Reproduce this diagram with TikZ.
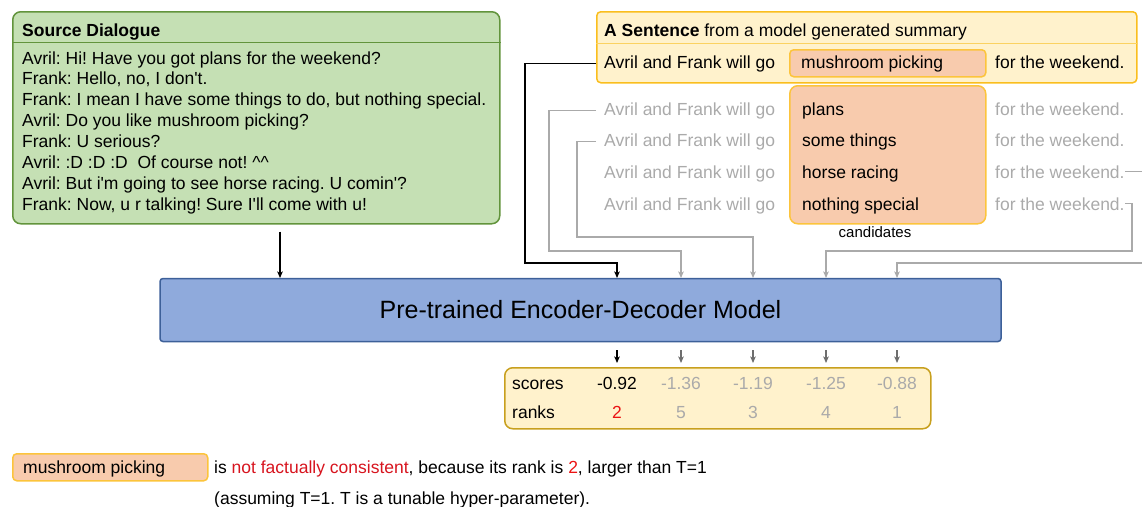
\documentclass[tikz,border=0pt]{standalone}
\usepackage{fontspec}
\setmainfont{Liberation Sans}
\usetikzlibrary{arrows.meta}
\usetikzlibrary{calc}
\frenchspacing

\definecolor{dlgfill}{RGB}{197,224,180}
\definecolor{dlgdraw}{RGB}{98,148,60}
\definecolor{sumfill}{RGB}{255,242,204}
\definecolor{sumdraw}{RGB}{250,190,30}
\definecolor{candfill}{RGB}{248,203,173}
\definecolor{canddraw}{RGB}{252,196,60}
\definecolor{modfill}{RGB}{143,170,220}
\definecolor{moddraw}{RGB}{61,96,153}
\definecolor{scdraw}{RGB}{200,160,30}
\definecolor{fadetxt}{RGB}{170,170,170}
\definecolor{arrgray}{RGB}{110,110,110}
\definecolor{badred}{RGB}{215,20,30}
\definecolor{rankred}{RGB}{235,20,20}

\newcommand{\apos}{\textquotesingle}

\tikzset{
    txt/.style={anchor=base west, inner sep=0pt, font=\fontsize{17.5}{21}\selectfont},
    fade/.style={txt, text=fadetxt},
    val/.style={anchor=base, inner sep=0pt, font=\fontsize{17.5}{21}\selectfont},
    boxnode/.style={anchor=north west, inner sep=0pt, line width=1.5pt},
    link/.style={line width=1.3pt, -{Stealth[length=6.5pt,width=5.5pt,inset=1.5pt]}},
    flink/.style={link, draw=fadetxt},
}

\begin{document}
\begin{tikzpicture}[x=1pt, y=-1pt]
    \useasboundingbox (0,0) rectangle (1142,506);
    \clip (0,0) rectangle (1142,506);

    %% source dialogue
    \node[boxnode, draw=dlgdraw, fill=dlgfill, rounded corners=8pt, minimum width=487pt, minimum height=212pt] (src) at (12,11) {};
    \draw[dlgdraw, line width=1pt] (src.west |- 0,42) -- (src.east |- 0,42);
    \node[txt, font=\bfseries\fontsize{17.5}{21}\selectfont] (srctitle) at (22,36) {Source Dialogue};
    \foreach \dlg [count=\i] in {
        {Avril: Hi! Have you got plans for the weekend?},
        {Frank: Hello, no, I don\apos t.},
        {Frank: I mean I have some things to do, but nothing special.},
        {Avril: Do you like mushroom picking?},
        {Frank: U serious?},
        {Avril: :D :D :D\ \ Of course not! \textasciicircum\textasciicircum},
        {Avril: But i\apos m going to see horse racing. U comin\apos?},
        {Frank: Now, u r talking! Sure I\apos ll come with u!}}
        \node[txt] (d\i) at (22,{64+20.9*(\i-1)}) {\dlg};

    %% sentence from the summary
    \node[boxnode, draw=sumdraw, fill=sumfill, rounded corners=4pt, minimum width=540pt, minimum height=71pt] (sum) at (596,11) {};
    \draw[sumdraw!70, line width=1pt] (sum.west |- 0,43) -- (sum.east |- 0,43);
    \node[txt] (sumtitle) at (604,36) {\textbf{A Sentence} from a model generated summary};
    \node[txt] (s0) at (604,68) {Avril and Frank will go};
    \node[boxnode, draw=canddraw, fill=candfill, rounded corners=4pt, minimum width=196pt, minimum height=27pt] (hl) at (789,49) {};
    \node[txt] (c0) at (801,68) {mushroom picking};
    \node[txt] (r0) at (995,68) {for the weekend.};

    %% candidates
    \node[boxnode, draw=canddraw, fill=candfill, rounded corners=8pt, minimum width=196pt, minimum height=138pt] (cands) at (789,85) {};
    \foreach \cand/\yb [count=\i] in {plans/115, some things/146, horse racing/178, nothing special/210} {
        \node[fade] (g\i) at (604,\yb) {Avril and Frank will go};
        \node[txt] (c\i) at (802,\yb) {\cand};
        \node[fade] (r\i) at (995,\yb) {for the weekend.};
    }
    \node[anchor=base, inner sep=0pt, font=\fontsize{15}{18}\selectfont] (candlabel) at (875,237) {candidates};

    %% model
    \node[draw=moddraw, fill=modfill, line width=1.5pt, rounded corners=3pt, minimum width=841pt, minimum height=63pt, inner sep=0pt, font=\fontsize{25}{30}\selectfont] (model) at (580.5,310) {Pre-trained Encoder-Decoder Model};
    \foreach \x [count=\i from 0] in {280,617,681,753,826,897}
        \coordinate (in\i) at (\x,278);

    %% inputs
    \draw[link, shorten <=7pt] (src.south -| in0) -- (in0);
    \draw[link] ([xshift=-8pt]s0.west) -| (525,263) -| (in1);
    \draw[flink] ([xshift=-8pt]g1.west) -| (549,251) -| (in2);
    \draw[flink] ([xshift=-8pt]g2.west) -| (577,237) -| (in3);
    \draw[flink] (r4.east) -| (1132,251) -| (in4);
    \draw[flink] (r3.east) -| (1150,263) -| (in5);

    %% scores and ranks
    \node[boxnode, draw=scdraw, fill=sumfill, rounded corners=8pt, minimum width=426pt, minimum height=61pt] (scores) at (504,367) {};
    \node[txt] (sclabel) at (512,389) {scores};
    \node[txt] (rklabel) at (512,418) {ranks};
    \foreach \x/\s/\r/\ac/\sc/\rc [count=\i] in {617/-0.92/2/black/black/rankred, 681/-1.36/5/arrgray/fadetxt/fadetxt, 753/-1.19/3/arrgray/fadetxt/fadetxt, 826/-1.25/4/arrgray/fadetxt/fadetxt, 897/-0.88/1/arrgray/fadetxt/fadetxt} {
        \node[val, text=\sc] (v\i) at (\x,389) {\s};
        \node[val, text=\rc] (k\i) at (\x,418) {\r};
        \draw[link, draw=\ac, fill=\ac, shorten <=8pt, shorten >=4pt] (model.south -| v\i) -- (scores.north -| v\i);
    }

    %% note at the bottom
    \node[boxnode, draw=canddraw, fill=candfill, rounded corners=4pt, minimum width=195pt, minimum height=27pt] (hlnote) at (12,453) {};
    \node[txt] (cnote) at (23,473) {mushroom picking};
    \node[txt] (note1) at (214,473) {is \textcolor{badred}{not factually consistent}, because its rank is \textcolor{rankred}{2}, larger than T=1};
    \node[txt] (note2) at (214,504) {(assuming T=1. T is a tunable hyper-parameter).};
\end{tikzpicture}
\end{document}
